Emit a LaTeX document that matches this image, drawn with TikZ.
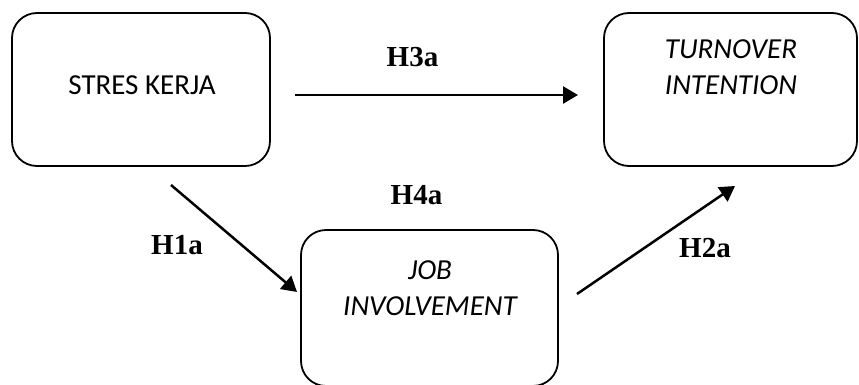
\documentclass[tikz,border=0pt]{standalone}
\usepackage{fontspec}
\setmainfont{Carlito}
\newfontfamily\labfont{Liberation Serif}
\usetikzlibrary{arrows.meta}
\begin{document}
\begin{tikzpicture}[x=1pt,y=-1pt,
  varbox/.style={draw=black,line width=1.8pt,rounded corners=25pt,inner sep=0pt},
  boxtext/.style={inner sep=0pt,align=center,font=\fontsize{29}{36}\selectfont},
  hyp/.style={inner sep=0pt,font=\labfont\bfseries\fontsize{29}{34}\selectfont},
  conn/.style={line width=2.5pt,-{Triangle[length=15pt,width=17pt]}}]
\useasboundingbox (0,0) rectangle (859,385);
\fill[white] (0,0) rectangle (859,385);
% boxes
\node[varbox,minimum width=258pt,minimum height=153pt] (sk) at (141,89.5) {};
\node[varbox,minimum width=253pt,minimum height=153pt] (ti) at (730.5,89.5) {};
\node[varbox,minimum width=257pt,minimum height=156pt] (ji) at (429.5,308) {};
% box texts
\node[boxtext] (skt) at (142,85) {STRES KERJA};
\node[boxtext] (tit) at (731,67) {\itshape TURNOVER\\\itshape INTENTION};
\node[boxtext] (jit) at (430,288.5) {\itshape JOB\\\itshape INVOLVEMENT};
% connector ends
\coordinate (a1) at (295,95);
\coordinate (a2) at (578,95);
\coordinate (b1) at (171,185);
\coordinate (b2) at (297,292);
\coordinate (c1) at (577,294);
\coordinate (c2) at (735,186);
\draw[conn] (a1) -- (a2);
\draw[conn] (b1) -- (b2);
\draw[conn] (c1) -- (c2);
% labels
\node[hyp] (h3) at (412.5,57.5) {H3a};
\node[hyp] (h4) at (416.5,195) {H4a};
\node[hyp] (h1) at (177,245.5) {H1a};
\node[hyp] (h2) at (705,248.5) {H2a};
\end{tikzpicture}
\end{document}
